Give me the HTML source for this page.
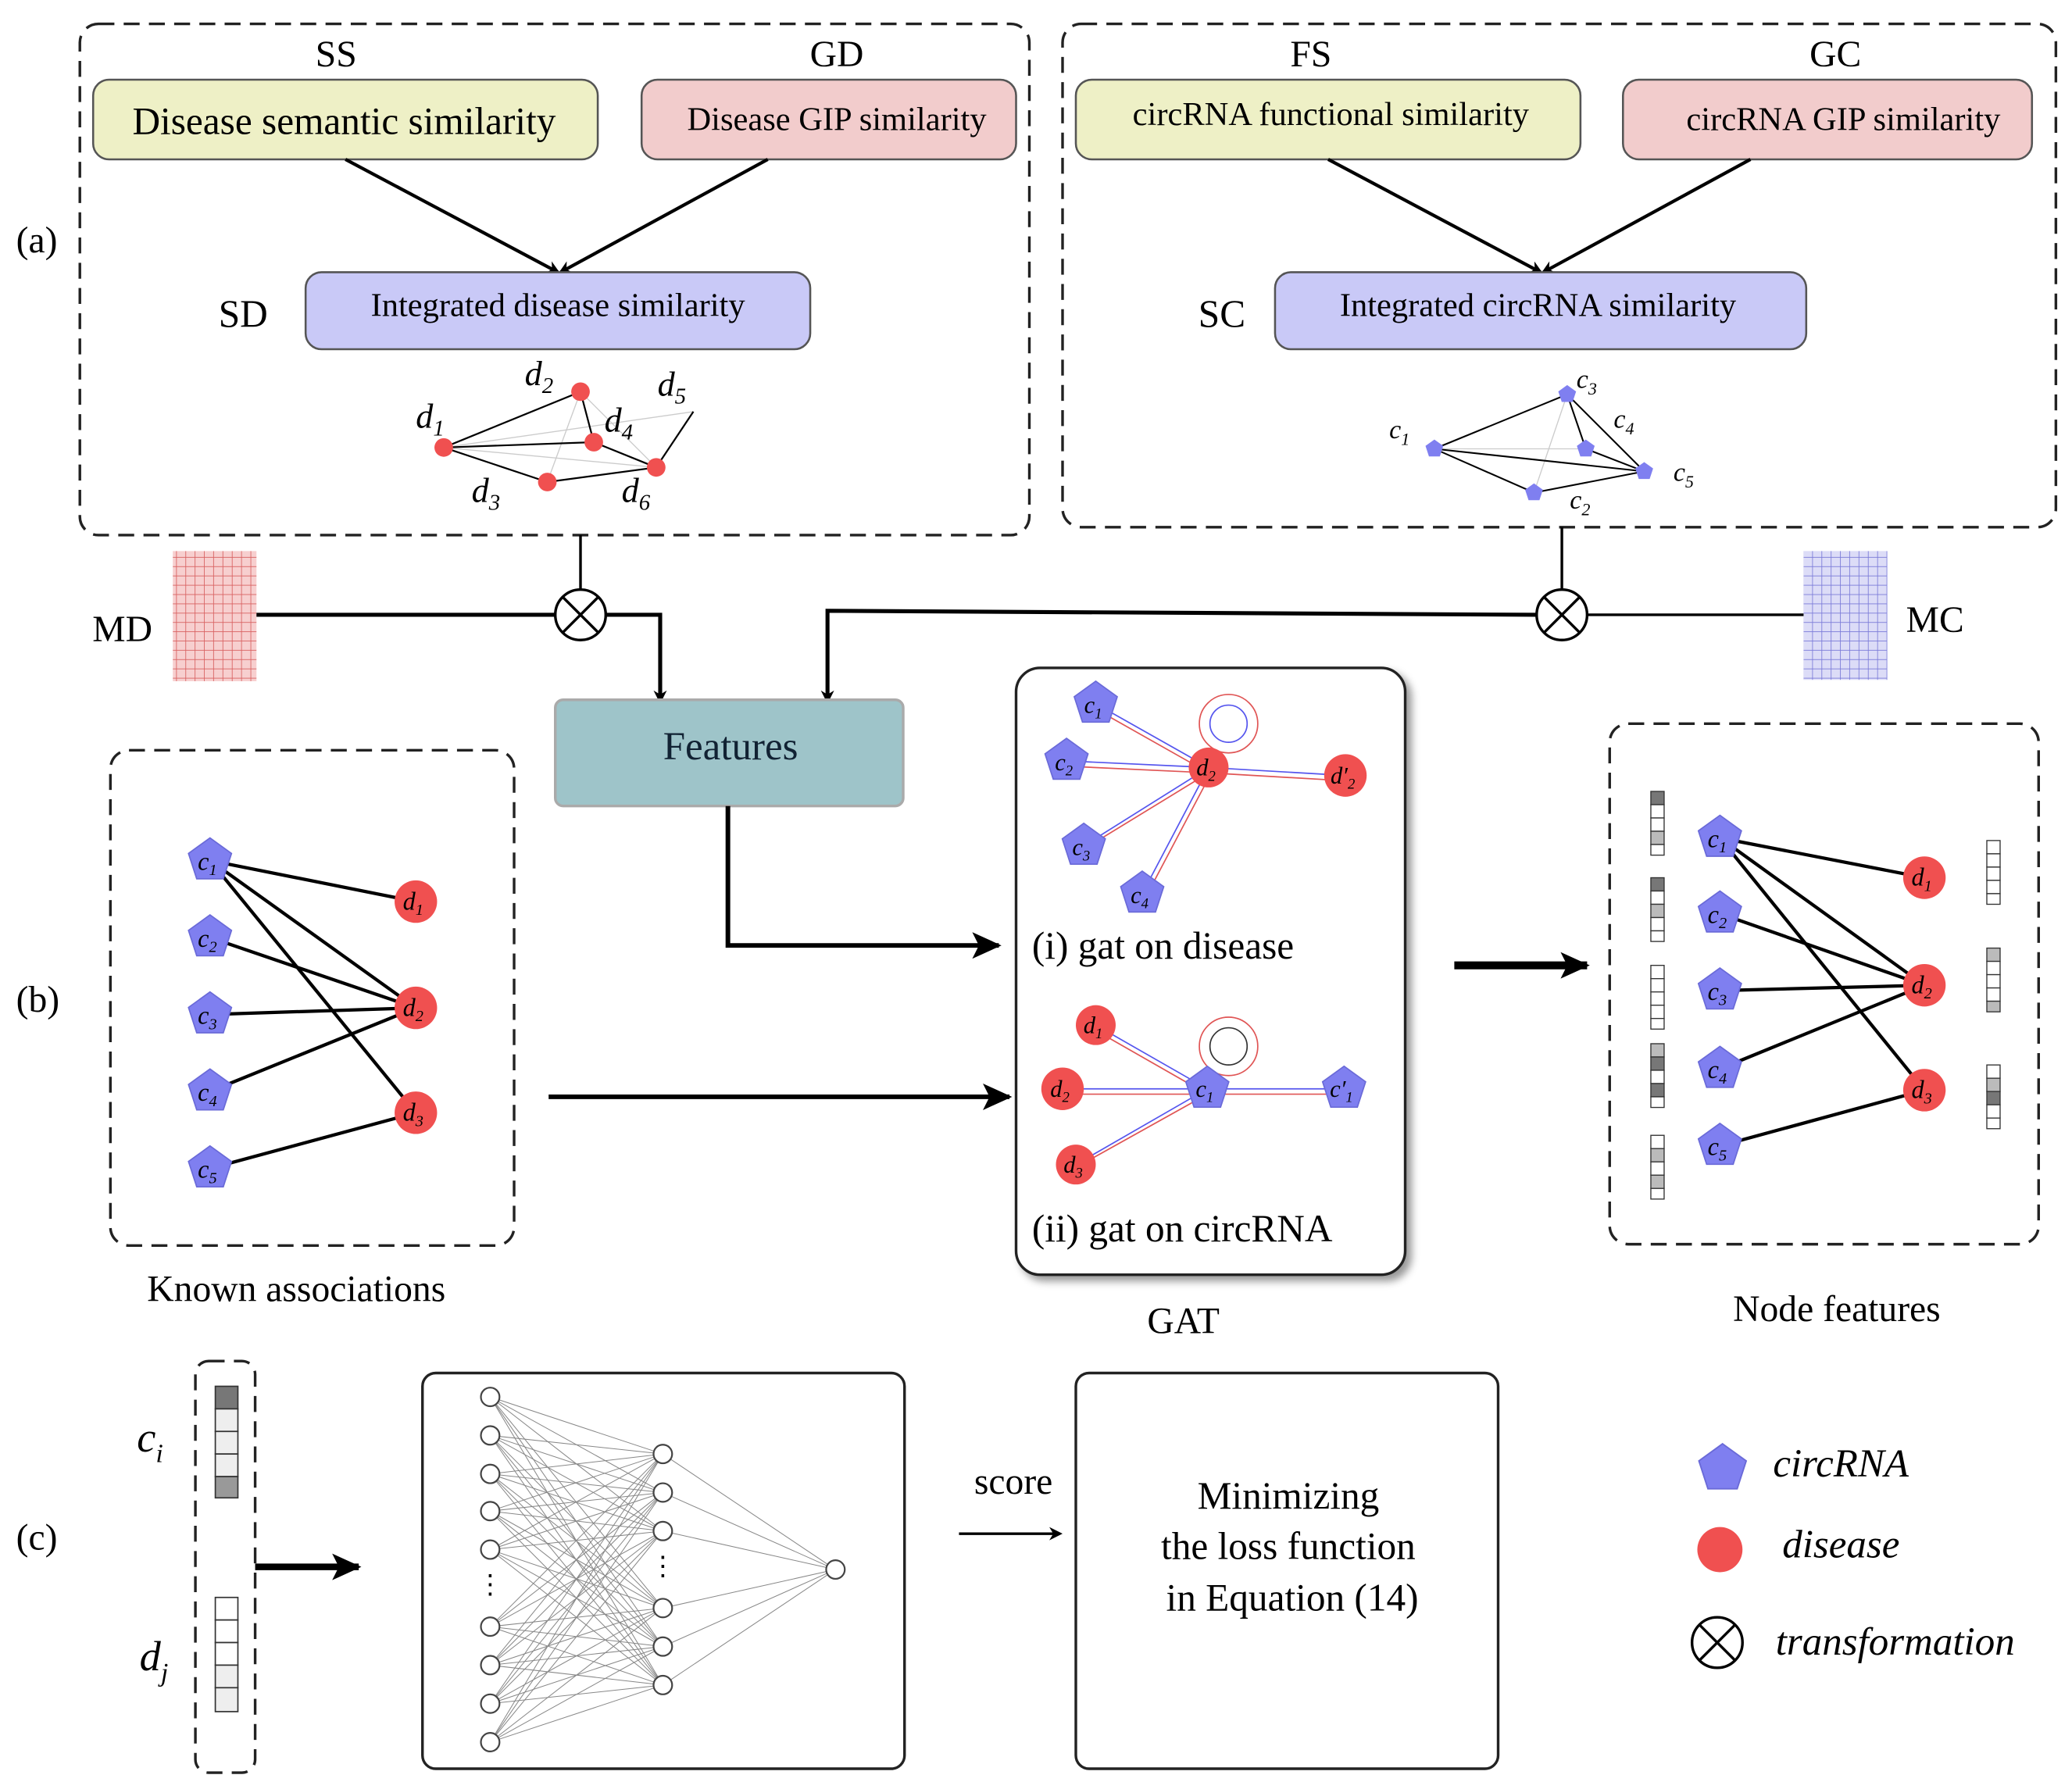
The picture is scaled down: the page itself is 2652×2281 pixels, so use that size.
<!DOCTYPE html>
<html><head><meta charset="utf-8">
<style>
html,body{margin:0;padding:0;background:#fff;}
svg{display:block;}
text{font-family:"Liberation Serif",serif;}
</style></head>
<body>
<svg width="2652" height="2281" viewBox="0 0 1560 1342" xmlns="http://www.w3.org/2000/svg">
<defs>
<path id="pent" d="M0,-17 L16.2,-5.3 L10,13.8 L-10,13.8 L-16.2,-5.3Z" fill="#7f7ff0" stroke="#6a6ad8" stroke-width="1"/>
<path id="spent" d="M0,-7 L6.7,-2.2 L4.1,5.7 L-4.1,5.7 L-6.7,-2.2Z" fill="#7f7ff0"/>
<marker id="ah" markerWidth="10" markerHeight="10" refX="8" refY="5" orient="auto" markerUnits="userSpaceOnUse"><path d="M0,0 L10,5 L0,10 L3,5Z" fill="#000"/></marker>
<marker id="ahb" markerWidth="22" markerHeight="20" refX="20" refY="10" orient="auto" markerUnits="userSpaceOnUse"><path d="M0,0 L22,10 L0,20 L5,10Z" fill="#000"/></marker>
<pattern id="gp" width="7" height="7" patternUnits="userSpaceOnUse"><rect width="7" height="7" fill="#f7cfcf"/><path d="M7,0 V7 M0,7 H7" stroke="#d86060" stroke-width="1"/></pattern>
<pattern id="gb" width="7" height="7" patternUnits="userSpaceOnUse"><rect width="7" height="7" fill="#dcdcf7"/><path d="M7,0 V7 M0,7 H7" stroke="#7a7ad8" stroke-width="1"/></pattern>
<filter id="sh"><feDropShadow dx="4" dy="4" stdDeviation="3" flood-opacity="0.4"/></filter>
</defs>

<!-- (a) -->
<text x="12" y="190" font-size="28">(a)</text>
<rect x="60" y="18" width="715" height="385" rx="14" fill="none" stroke="#222" stroke-width="2" stroke-dasharray="12,7"/>
<rect x="800" y="18" width="748" height="379" rx="14" fill="none" stroke="#222" stroke-width="2" stroke-dasharray="12,7"/>
<g font-size="28" text-anchor="middle">
<text x="253" y="50">SS</text><text x="630" y="50">GD</text><text x="987" y="50">FS</text><text x="1382" y="50">GC</text>
</g>
<rect x="70" y="60" width="380" height="60" rx="12" fill="#eef0c6" stroke="#555" stroke-width="1.5"/>
<rect x="483" y="60" width="282" height="60" rx="12" fill="#f2cccc" stroke="#555" stroke-width="1.5"/>
<rect x="810" y="60" width="380" height="60" rx="12" fill="#eef0c6" stroke="#555" stroke-width="1.5"/>
<rect x="1222" y="60" width="308" height="60" rx="12" fill="#f2cccc" stroke="#555" stroke-width="1.5"/>
<g text-anchor="middle">
<text x="259" y="101" font-size="29">Disease semantic similarity</text>
<text x="630" y="98" font-size="25">Disease GIP similarity</text>
<text x="1002" y="94" font-size="25">circRNA functional similarity</text>
<text x="1388" y="98" font-size="25">circRNA GIP similarity</text>
</g>
<g stroke="#000" stroke-width="2.5" marker-end="url(#ah)">
<line x1="260" y1="120" x2="420" y2="205"/><line x1="578" y1="120" x2="422" y2="205"/>
<line x1="1000" y1="120" x2="1160" y2="205"/><line x1="1318" y1="120" x2="1162" y2="205"/>
</g>
<rect x="230" y="205" width="380" height="58" rx="12" fill="#c9c9f7" stroke="#555" stroke-width="1.5"/>
<rect x="960" y="205" width="400" height="58" rx="12" fill="#c9c9f7" stroke="#555" stroke-width="1.5"/>
<text x="420" y="238" font-size="25" text-anchor="middle">Integrated disease similarity</text>
<text x="1158" y="238" font-size="25" text-anchor="middle">Integrated circRNA similarity</text>
<text x="183" y="246" font-size="29" text-anchor="middle">SD</text>
<text x="920" y="246" font-size="29" text-anchor="middle">SC</text>

<!-- disease graph -->
<g stroke="#ccc" stroke-width="0.8">
<line x1="334" y1="337" x2="494" y2="352"/><line x1="437" y1="295" x2="494" y2="352"/><line x1="334" y1="337" x2="522" y2="310"/><line x1="412" y1="363" x2="437" y2="295"/>
</g>
<g stroke="#000" stroke-width="1.3">
<line x1="334" y1="337" x2="437" y2="295"/><line x1="334" y1="337" x2="412" y2="363"/><line x1="334" y1="337" x2="447" y2="333"/>
<line x1="437" y1="295" x2="447" y2="333"/><line x1="447" y1="333" x2="494" y2="352"/><line x1="494" y1="352" x2="522" y2="310"/><line x1="412" y1="363" x2="494" y2="352"/>
</g>
<g fill="#f05050"><circle cx="334" cy="337" r="7"/><circle cx="437" cy="295" r="7"/><circle cx="447" cy="333" r="7"/><circle cx="412" cy="363" r="7"/><circle cx="494" cy="352" r="7"/></g>
<g font-size="26" font-style="italic">
<text x="313" y="322">d<tspan font-size="17" dy="6">1</tspan></text>
<text x="395" y="290">d<tspan font-size="17" dy="6">2</tspan></text>
<text x="455" y="325">d<tspan font-size="17" dy="6">4</tspan></text>
<text x="495" y="298">d<tspan font-size="17" dy="6">5</tspan></text>
<text x="355" y="378">d<tspan font-size="17" dy="6">3</tspan></text>
<text x="468" y="378">d<tspan font-size="17" dy="6">6</tspan></text>
</g>
<!-- circRNA graph -->
<g stroke="#ccc" stroke-width="0.8"><line x1="1080" y1="338" x2="1194" y2="338"/><line x1="1155" y1="371" x2="1180" y2="297"/></g>
<g stroke="#000" stroke-width="1.2">
<line x1="1080" y1="338" x2="1180" y2="297"/><line x1="1080" y1="338" x2="1238" y2="355"/><line x1="1080" y1="338" x2="1155" y2="371"/>
<line x1="1180" y1="297" x2="1238" y2="355"/><line x1="1180" y1="297" x2="1194" y2="338"/><line x1="1155" y1="371" x2="1238" y2="355"/><line x1="1194" y1="338" x2="1238" y2="355"/>
</g>
<use href="#spent" x="1080" y="338"/><use href="#spent" x="1180" y="297"/><use href="#spent" x="1194" y="338"/><use href="#spent" x="1238" y="355"/><use href="#spent" x="1155" y="371"/>
<g font-size="20" font-style="italic">
<text x="1046" y="330">c<tspan font-size="13" dy="5">1</tspan></text>
<text x="1187" y="292">c<tspan font-size="13" dy="5">3</tspan></text>
<text x="1215" y="322">c<tspan font-size="13" dy="5">4</tspan></text>
<text x="1260" y="362">c<tspan font-size="13" dy="5">5</tspan></text>
<text x="1182" y="383">c<tspan font-size="13" dy="5">2</tspan></text>
</g>

<!-- MD / MC -->
<rect x="130" y="415" width="63" height="98" fill="url(#gp)"/>
<rect x="1358" y="415" width="63" height="97" fill="url(#gb)"/>
<text x="92" y="483" font-size="28" text-anchor="middle">MD</text>
<text x="1457" y="476" font-size="28" text-anchor="middle">MC</text>
<g stroke="#000" stroke-width="3" fill="none">
<line x1="193" y1="463" x2="418" y2="463"/>
<line x1="437" y1="403" x2="437" y2="444" stroke-width="2"/>
<polyline points="456,463 497,463 497,528" marker-end="url(#ah)"/>
<line x1="1176" y1="397" x2="1176" y2="444" stroke-width="2"/>
<line x1="1195" y1="463" x2="1358" y2="463" stroke-width="2"/>
<polyline points="1157,463 623,460 623,528" marker-end="url(#ah)"/>
</g>
<g stroke="#000" stroke-width="2" fill="#fff">
<circle cx="437" cy="463" r="19"/><path d="M424,450 L450,476 M450,450 L424,476" fill="none"/>
<circle cx="1176" cy="463" r="19"/><path d="M1163,450 L1189,476 M1189,450 L1163,476" fill="none"/>
</g>

<!-- Features -->
<rect x="418" y="527" width="262" height="80" rx="6" fill="#9ec4c9" stroke="#aaa" stroke-width="2"/>
<text x="550" y="572" font-size="30" text-anchor="middle" fill="#123">Features</text>

<!-- (b) -->
<text x="12" y="762" font-size="28">(b)</text>
<rect x="83" y="565" width="304" height="373" rx="14" fill="none" stroke="#222" stroke-width="2" stroke-dasharray="12,7"/>
<g stroke="#000" stroke-width="2.5">
<line x1="158" y1="648" x2="313" y2="679"/><line x1="158" y1="648" x2="313" y2="759"/><line x1="158" y1="648" x2="313" y2="838"/>
<line x1="158" y1="706" x2="313" y2="759"/><line x1="158" y1="764" x2="313" y2="759"/><line x1="158" y1="822" x2="313" y2="759"/><line x1="158" y1="880" x2="313" y2="838"/>
</g>
<g><use href="#pent" x="158" y="648"/><use href="#pent" x="158" y="706"/><use href="#pent" x="158" y="764"/><use href="#pent" x="158" y="822"/><use href="#pent" x="158" y="880"/></g>
<g fill="#f05050"><circle cx="313" cy="679" r="16"/><circle cx="313" cy="759" r="16"/><circle cx="313" cy="838" r="16"/></g>
<g font-size="19" font-style="italic" text-anchor="middle">
<text x="156" y="655">c<tspan font-size="12" dy="4">1</tspan></text><text x="156" y="713">c<tspan font-size="12" dy="4">2</tspan></text><text x="156" y="771">c<tspan font-size="12" dy="4">3</tspan></text><text x="156" y="829">c<tspan font-size="12" dy="4">4</tspan></text><text x="156" y="887">c<tspan font-size="12" dy="4">5</tspan></text>
<text x="311" y="685">d<tspan font-size="12" dy="4">1</tspan></text><text x="311" y="765">d<tspan font-size="12" dy="4">2</tspan></text><text x="311" y="844">d<tspan font-size="12" dy="4">3</tspan></text>
</g>
<text x="223" y="980" font-size="28" text-anchor="middle">Known associations</text>

<g stroke="#000" stroke-width="3.5" fill="none">
<polyline points="548,607 548,712 752,712" marker-end="url(#ahb)"/>
<line x1="413" y1="826" x2="760" y2="826" marker-end="url(#ahb)"/>
<line x1="1095" y1="727" x2="1195" y2="727" stroke-width="6" marker-end="url(#ahb)"/>
</g>

<!-- GAT box -->
<rect x="765" y="503" width="293" height="457" rx="18" fill="#fff" stroke="#222" stroke-width="2" filter="url(#sh)"/>
<g stroke-width="1">
<g stroke="#5555ee"><line x1="825" y1="530" x2="910" y2="578"/><line x1="803" y1="573" x2="910" y2="578"/><line x1="816" y1="637" x2="910" y2="578"/><line x1="860" y1="673" x2="910" y2="578"/><line x1="910" y1="578" x2="1013" y2="584"/>
<line x1="825" y1="772" x2="909" y2="820"/><line x1="800" y1="820" x2="909" y2="820"/><line x1="810" y1="877" x2="909" y2="820"/><line x1="909" y1="820" x2="1012" y2="820"/></g>
<g stroke="#e05555"><line x1="825" y1="534" x2="910" y2="582"/><line x1="803" y1="577" x2="910" y2="582"/><line x1="820" y1="637" x2="910" y2="582"/><line x1="864" y1="673" x2="912" y2="582"/><line x1="910" y1="582" x2="1013" y2="588"/>
<line x1="825" y1="776" x2="909" y2="824"/><line x1="800" y1="824" x2="909" y2="824"/><line x1="814" y1="877" x2="909" y2="824"/><line x1="909" y1="824" x2="1012" y2="824"/></g>
<circle cx="925" cy="545" r="22" fill="none" stroke="#e05555"/><circle cx="925" cy="545" r="14" fill="none" stroke="#5555ee"/>
<circle cx="925" cy="788" r="22" fill="none" stroke="#e05555"/><circle cx="925" cy="788" r="14" fill="none" stroke="#333"/>
</g>
<use href="#pent" x="825" y="530"/><use href="#pent" x="803" y="573"/><use href="#pent" x="816" y="637"/><use href="#pent" x="860" y="673"/>
<use href="#pent" x="909" y="820"/><use href="#pent" x="1012" y="820"/>
<g fill="#f05050"><circle cx="910" cy="578" r="15"/><circle cx="1013" cy="584" r="16"/><circle cx="825" cy="772" r="15"/><circle cx="800" cy="820" r="16"/><circle cx="810" cy="877" r="15"/></g>
<g font-size="18" font-style="italic" text-anchor="middle">
<text x="823" y="537">c<tspan font-size="11" dy="4">1</tspan></text><text x="801" y="580">c<tspan font-size="11" dy="4">2</tspan></text><text x="814" y="644">c<tspan font-size="11" dy="4">3</tspan></text><text x="858" y="680">c<tspan font-size="11" dy="4">4</tspan></text>
<text x="908" y="584">d<tspan font-size="11" dy="4">2</tspan></text><text x="1011" y="590">d′<tspan font-size="11" dy="4">2</tspan></text>
<text x="823" y="778">d<tspan font-size="11" dy="4">1</tspan></text><text x="798" y="826">d<tspan font-size="11" dy="4">2</tspan></text><text x="808" y="883">d<tspan font-size="11" dy="4">3</tspan></text>
<text x="907" y="826">c<tspan font-size="11" dy="4">1</tspan></text><text x="1010" y="826">c′<tspan font-size="11" dy="4">1</tspan></text>
</g>
<text x="777" y="722" font-size="29">(i) gat on disease</text>
<text x="777" y="935" font-size="29">(ii) gat on circRNA</text>
<text x="891" y="1004" font-size="28" text-anchor="middle">GAT</text>

<!-- Node features -->
<rect x="1212" y="545" width="323" height="392" rx="14" fill="none" stroke="#222" stroke-width="2" stroke-dasharray="12,7"/>
<g stroke="#000" stroke-width="2.5">
<line x1="1295" y1="631" x2="1449" y2="661"/><line x1="1295" y1="631" x2="1449" y2="742"/><line x1="1295" y1="631" x2="1449" y2="821"/>
<line x1="1295" y1="688" x2="1449" y2="742"/><line x1="1295" y1="746" x2="1449" y2="742"/><line x1="1295" y1="805" x2="1449" y2="742"/><line x1="1295" y1="863" x2="1449" y2="821"/>
</g>
<use href="#pent" x="1295" y="631"/><use href="#pent" x="1295" y="688"/><use href="#pent" x="1295" y="746"/><use href="#pent" x="1295" y="805"/><use href="#pent" x="1295" y="863"/>
<g fill="#f05050"><circle cx="1449" cy="661" r="16"/><circle cx="1449" cy="742" r="16"/><circle cx="1449" cy="821" r="16"/></g>
<g font-size="19" font-style="italic" text-anchor="middle">
<text x="1293" y="638">c<tspan font-size="12" dy="4">1</tspan></text><text x="1293" y="695">c<tspan font-size="12" dy="4">2</tspan></text><text x="1293" y="753">c<tspan font-size="12" dy="4">3</tspan></text><text x="1293" y="812">c<tspan font-size="12" dy="4">4</tspan></text><text x="1293" y="870">c<tspan font-size="12" dy="4">5</tspan></text>
<text x="1447" y="667">d<tspan font-size="12" dy="4">1</tspan></text><text x="1447" y="748">d<tspan font-size="12" dy="4">2</tspan></text><text x="1447" y="827">d<tspan font-size="12" dy="4">3</tspan></text>
</g>
<g stroke="#333" stroke-width="0.8">
<g fill="#fff">
<rect x="1243" y="596" width="10" height="10" fill="#777"/><rect x="1243" y="606" width="10" height="10"/><rect x="1243" y="616" width="10" height="10"/><rect x="1243" y="626" width="10" height="10" fill="#bbb"/><rect x="1243" y="636" width="10" height="8"/>
<rect x="1243" y="661" width="10" height="10" fill="#777"/><rect x="1243" y="671" width="10" height="10"/><rect x="1243" y="681" width="10" height="10" fill="#bbb"/><rect x="1243" y="691" width="10" height="10"/><rect x="1243" y="701" width="10" height="8"/>
<rect x="1243" y="727" width="10" height="10"/><rect x="1243" y="737" width="10" height="10"/><rect x="1243" y="747" width="10" height="10"/><rect x="1243" y="757" width="10" height="10"/><rect x="1243" y="767" width="10" height="8"/>
<rect x="1243" y="786" width="10" height="10" fill="#bbb"/><rect x="1243" y="796" width="10" height="10" fill="#777"/><rect x="1243" y="806" width="10" height="10"/><rect x="1243" y="816" width="10" height="10" fill="#777"/><rect x="1243" y="826" width="10" height="8"/>
<rect x="1243" y="855" width="10" height="10"/><rect x="1243" y="865" width="10" height="10" fill="#bbb"/><rect x="1243" y="875" width="10" height="10"/><rect x="1243" y="885" width="10" height="10" fill="#bbb"/><rect x="1243" y="895" width="10" height="8"/>
<rect x="1496" y="633" width="10" height="10"/><rect x="1496" y="643" width="10" height="10"/><rect x="1496" y="653" width="10" height="10"/><rect x="1496" y="663" width="10" height="10"/><rect x="1496" y="673" width="10" height="8"/>
<rect x="1496" y="714" width="10" height="10" fill="#bbb"/><rect x="1496" y="724" width="10" height="10"/><rect x="1496" y="734" width="10" height="10"/><rect x="1496" y="744" width="10" height="10"/><rect x="1496" y="754" width="10" height="8" fill="#bbb"/>
<rect x="1496" y="802" width="10" height="10"/><rect x="1496" y="812" width="10" height="10" fill="#bbb"/><rect x="1496" y="822" width="10" height="10" fill="#777"/><rect x="1496" y="832" width="10" height="10"/><rect x="1496" y="842" width="10" height="8"/>
</g></g>
<text x="1383" y="995" font-size="28" text-anchor="middle">Node features</text>

<!-- (c) -->
<text x="12" y="1167" font-size="28">(c)</text>
<rect x="147" y="1025" width="45" height="310" rx="10" fill="none" stroke="#222" stroke-width="2" stroke-dasharray="12,7"/>
<text x="103" y="1093" font-size="32" font-style="italic">c<tspan font-size="20" dy="8">i</tspan></text>
<text x="105" y="1258" font-size="32" font-style="italic">d<tspan font-size="20" dy="8">j</tspan></text>
<g stroke="#333" stroke-width="1">
<rect x="162" y="1044" width="17" height="17" fill="#777"/><rect x="162" y="1061" width="17" height="17" fill="#eee"/><rect x="162" y="1078" width="17" height="17" fill="#eee"/><rect x="162" y="1095" width="17" height="17" fill="#eee"/><rect x="162" y="1112" width="17" height="16" fill="#999"/>
<rect x="162" y="1203" width="17" height="17" fill="#fff"/><rect x="162" y="1220" width="17" height="17" fill="#fff"/><rect x="162" y="1237" width="17" height="17" fill="#fff"/><rect x="162" y="1254" width="17" height="17" fill="#eee"/><rect x="162" y="1271" width="17" height="18" fill="#eee"/>
</g>
<line x1="192" y1="1180" x2="270" y2="1180" stroke="#000" stroke-width="5" marker-end="url(#ahb)"/>

<rect x="318" y="1034" width="363" height="298" rx="10" fill="none" stroke="#222" stroke-width="2"/>
<g stroke="#888" stroke-width="0.6" id="nnlines">
</g>
<g id="nn"></g>
<script>
(function(){
var ns="http://www.w3.org/2000/svg";
var ins=[1052,1081,1110,1138,1167,1225,1254,1283,1312], hid=[1095,1124,1153,1211,1240,1269];
var L=document.getElementById("nnlines"), N=document.getElementById("nn");
function ln(a,b,c,d){var l=document.createElementNS(ns,"line");l.setAttribute("x1",a);l.setAttribute("y1",b);l.setAttribute("x2",c);l.setAttribute("y2",d);L.appendChild(l);}
function ci(x,y){var c=document.createElementNS(ns,"circle");c.setAttribute("cx",x);c.setAttribute("cy",y);c.setAttribute("r",7);c.setAttribute("fill","#fff");c.setAttribute("stroke","#444");c.setAttribute("stroke-width","1.3");N.appendChild(c);}
ins.forEach(function(a){hid.forEach(function(b){ln(369,a,499,b);});});
hid.forEach(function(b){ln(499,b,629,1182);});
ins.forEach(function(a){ci(369,a);});hid.forEach(function(b){ci(499,b);});ci(629,1182);
})();
</script>
<text x="369" y="1200" font-size="20" text-anchor="middle">⋮</text>
<text x="499" y="1186" font-size="20" text-anchor="middle">⋮</text>

<text x="763" y="1125" font-size="28" text-anchor="middle">score</text>
<line x1="722" y1="1155" x2="798" y2="1155" stroke="#000" stroke-width="2" marker-end="url(#ah)"/>
<rect x="810" y="1034" width="318" height="298" rx="10" fill="none" stroke="#222" stroke-width="2"/>
<g font-size="29" text-anchor="middle">
<text x="970" y="1136">Minimizing</text><text x="970" y="1174">the loss function</text><text x="973" y="1213">in  Equation (14)</text>
</g>

<!-- legend -->
<use href="#pent" x="1297" y="1106" transform="translate(1297,1106) scale(1.1) translate(-1297,-1106)"/>
<circle cx="1295" cy="1167" r="17" fill="#f05050"/>
<g stroke="#000" stroke-width="2" fill="none"><circle cx="1293" cy="1237" r="19"/><path d="M1280,1224 L1306,1250 M1306,1224 L1280,1250"/></g>
<g font-size="30" font-style="italic">
<text x="1335" y="1112">circRNA</text><text x="1342" y="1173">disease</text><text x="1337" y="1246">transformation</text>
</g>
</svg>
</body></html>
